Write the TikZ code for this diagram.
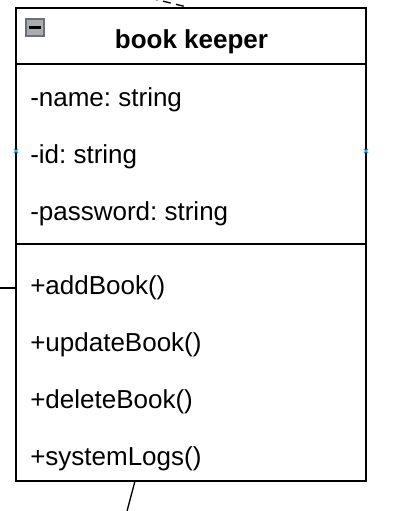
\documentclass[tikz,border=0pt]{standalone}
\usepackage{fontspec}
\setmainfont{Liberation Sans}
\usetikzlibrary{positioning}
\frenchspacing

\definecolor{iconGray}{RGB}{170,172,178}
\definecolor{iconEdge}{RGB}{110,112,120}
\definecolor{pinBlue}{RGB}{40,170,230}

\tikzset{
  classbox/.style={draw, line width=1.5pt, minimum width=262.5pt, minimum height=354.75pt, inner sep=0pt},
  member/.style={anchor=base west, inner sep=0pt, font=\fontsize{19.5}{22}\selectfont},
  title/.style={anchor=base, inner sep=0pt, font=\fontsize{19.5}{22}\selectfont\bfseries},
  wire/.style={line width=1pt},
  pin/.style={draw=pinBlue, line width=0.9pt}
}

\begin{document}
\begin{tikzpicture}[x=0.75pt,y=0.75pt,yscale=-1,xscale=1]
        \useasboundingbox (0,0) rectangle (418,511);

        %Shape: Class box
        \node [classbox] (keeper) at (191,244.5) {};
        %Straight Lines: header and separator
        \coordinate (hdr) at (0,64);
        \coordinate (sep) at (0,244);
        \draw [line width=1.2pt] (keeper.west |- hdr) -- (keeper.east |- hdr) ;
        \draw [line width=1.2pt] (keeper.west |- sep) -- (keeper.east |- sep) ;

        %Shape: collapse icon
        \draw [draw=iconEdge, fill=iconGray, line width=0.8pt] (26,19) rectangle (44,36) ;
        \draw [line width=2pt] (29,27.5) -- (41,27.5) ;

        % Text Node
        \node [title] (name) at (191.5,48) {book keeper};
        % Text Node
        \node [member] (attrName) at (30,106) {-name: string};
        % Text Node
        \node [member] (attrId) at (30,163) {-id: string};
        % Text Node
        \node [member] (attrPass) at (30,220) {-password: string};
        % Text Node
        \node [member] (opAdd) at (30,294.5) {+addBook()};
        % Text Node
        \node [member] (opUpdate) at (30,351) {+updateBook()};
        % Text Node
        \node [member] (opDelete) at (30,408) {+deleteBook()};
        % Text Node
        \node [member] (opLogs) at (30,465) {+systemLogs()};

        %Straight Lines: stubs of connectors
        \coordinate (topEnd) at (150,-2);
        \coordinate (topHit) at (191,8);
        \draw [wire, dashed, dash pattern=on 6pt off 4pt] (topEnd) -- (topHit) ;
        \coordinate (leftEnd) at (0,288);
        \draw [wire] (leftEnd) -- (keeper.west |- leftEnd) ;
        \coordinate (botHit) at (135,481);
        \coordinate (botEnd) at (126.5,513);
        \draw [wire] (botHit) -- (botEnd) ;

        %Shape: connection pins
        \coordinate (pinL) at (16,151);
        \coordinate (pinR) at (366,151);
        \foreach \p in {pinL,pinR}
          \draw [pin] ([shift={(-2,-2)}]\p) -- ([shift={(2,2)}]\p) ([shift={(-2,2)}]\p) -- ([shift={(2,-2)}]\p) ;

\end{tikzpicture}
\end{document}
